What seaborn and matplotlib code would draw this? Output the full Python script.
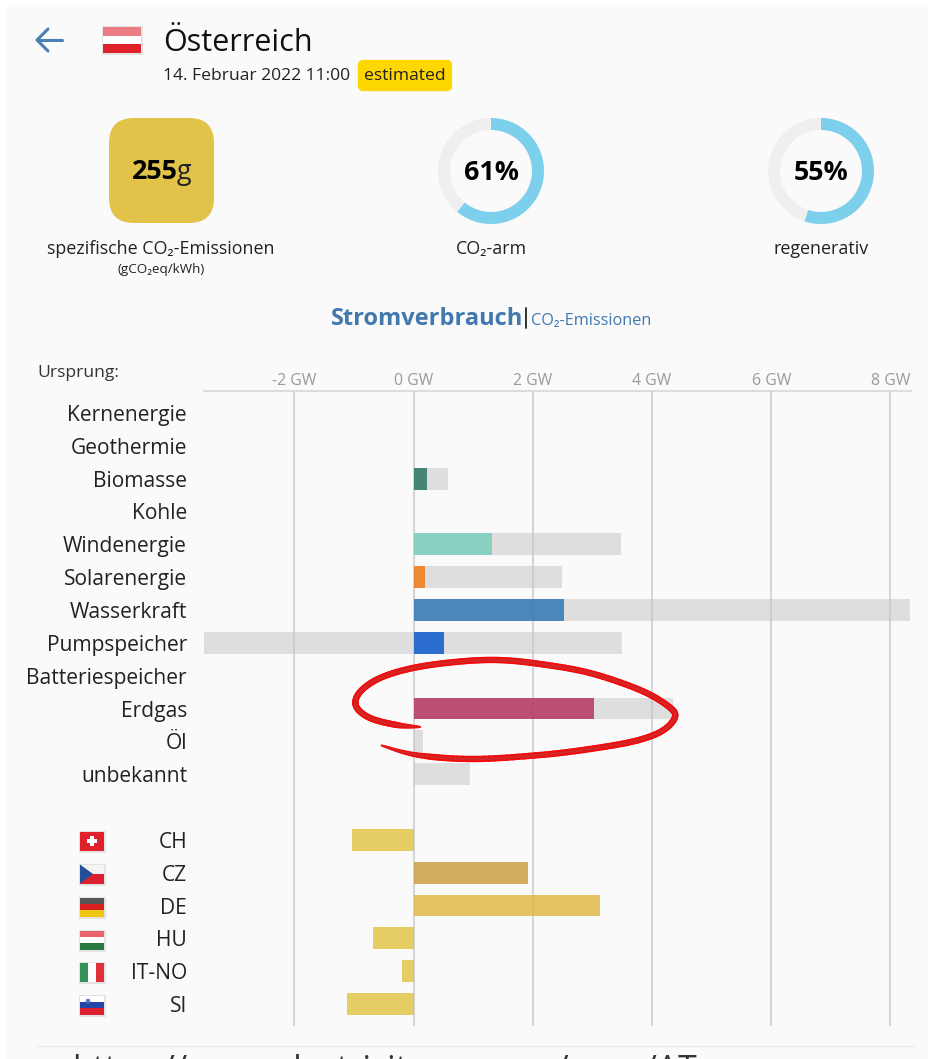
import numpy as np
import pandas as pd
import seaborn as sns
import matplotlib
matplotlib.use('Agg')
import matplotlib.pyplot as plt
from matplotlib.patches import Rectangle, FancyBboxPatch, Wedge, Polygon, Circle
from matplotlib.collections import LineCollection

# data
categories = ['Kernenergie', 'Geothermie', 'Biomasse', 'Kohle', 'Windenergie', 'Solarenergie',
              'Wasserkraft', 'Pumpspeicher', 'Batteriespeicher', 'Erdgas', 'Öl', 'unbekannt', ' ',
              'CH', 'CZ', 'DE', 'HU', 'IT-NO', 'SI']
capacity_pos = [0, 0, 0.58, 0, 3.48, 2.49, 8.33, 3.5, 0, 4.35, 0.16, 0.95, 0, 0, 0, 0, 0, 0, 0]
capacity_neg = [0, 0, 0, 0, 0, 0, 0, -3.52, 0, 0, 0, 0, 0, 0, 0, 0, 0, 0, 0]
production = [0, 0, 0.22, 0, 1.32, 0.2, 2.53, 0.51, 0, 3.03, 0, 0.01, 0, -1.03, 1.92, 3.13, -0.68, -0.2, -1.12]
colors = ['#ffffff', '#ffffff', '#1f6f5c', '#ffffff', '#74cdb9', '#f27406', '#2772b2', '#0052cc', '#ffffff',
          '#b32c58', '#888888', '#888888', '#ffffff',
          '#e2c33f', '#c99a3a', '#deb63f', '#e2c33f', '#e2c33f', '#e2c33f']
gw_ticks = [-2, 0, 2, 4, 6, 8]
co2_value = '255'
low_carbon = 61
renewable = 55

W, H = 930, 1059
sns.set_theme(style='white')
plt.rcParams['font.family'] = ['Open Sans', 'DejaVu Sans']

df = pd.DataFrame({'cat': categories, 'pos': capacity_pos, 'neg': capacity_neg, 'prod': production})
palette = dict(zip(categories, colors))

fig = plt.figure(figsize=(W / 100, H / 100), dpi=100, facecolor='white')

def px_axes(zorder):
    a = fig.add_axes([0, 0, 1, 1], zorder=zorder)
    a.set_xlim(0, W)
    a.set_ylim(H, 0)
    a.axis('off')
    a.patch.set_alpha(0)
    return a

bg = px_axes(0)
bg.add_patch(Rectangle((7, 5), 921, 1054, fc='#fafafa', ec='none'))

# chart, placed at pixel box 203.7..910.7 / 391..1026
ax = fig.add_axes([203.7 / W, 1 - 1026 / H, 707 / W, (1026 - 391) / H], zorder=1)
ax.patch.set_alpha(0)
bar_kw = dict(order=categories, width=0.66, orient='h', ax=ax, errorbar=None, saturation=1, linewidth=0)
sns.barplot(data=df, y='cat', x='pos', color='#c4c4c4', alpha=0.5, **bar_kw)
sns.barplot(data=df, y='cat', x='neg', color='#c4c4c4', alpha=0.5, **bar_kw)
sns.barplot(data=df, y='cat', x='prod', hue='cat', palette=palette, alpha=0.8, legend=False, **bar_kw)
ax.set_xlim(-3.52, 8.34)
ax.set_ylim(18.67, -0.67)
ax.set_xticks(gw_ticks)
ax.set_xticklabels([f'{t} GW' for t in gw_ticks], color='#9a9a9a', fontsize=11.4)
ax.set_xlabel('')
ax.set_ylabel('')
ax.xaxis.tick_top()
ax.tick_params(axis='x', length=0, pad=1.5)
ax.tick_params(axis='y', length=0, pad=12, labelsize=15.1, labelcolor='#222222')
ax.set_axisbelow(True)
ax.grid(axis='x', color='#d6d6d6', lw=1.5)
ax.grid(axis='y', visible=False)
for s in ['left', 'right', 'bottom']:
    ax.spines[s].set_visible(False)
ax.spines['top'].set_color('#d6d6d6')
ax.spines['top'].set_linewidth(1.2)

ov = px_axes(2)

# header
ov.plot([38, 62], [40, 40], color='#4a80b5', lw=2.2, solid_capstyle='round')
ov.plot([48, 37, 48], [29, 40, 51], color='#4a80b5', lw=2.2, solid_capstyle='round', solid_joinstyle='round')
ov.text(163, 43, 'Österreich', fontsize=22, va='center', color='#111111')
ov.text(163, 76, '14. Februar 2022 11:00', fontsize=12.6, va='center', color='#222222')
ov.add_patch(FancyBboxPatch((362, 64), 86, 23, boxstyle='round,pad=0,rounding_size=1', fc='#ffd700', ec='#ffd700', lw=6,
                            joinstyle='round'))
ov.text(405, 76.5, 'estimated', fontsize=12.6, va='center', ha='center', color='#222222')

def flag(x, y, w, h, stripes, vertical=False):
    ov.add_patch(Rectangle((x - 1.5, y - 1), w + 3, h + 3, fc='#c8c8c8', ec='none', alpha=0.45))
    n = len(stripes)
    for i, c in enumerate(stripes):
        if vertical:
            ov.add_patch(Rectangle((x + i * w / n, y), w / n, h, fc=c, ec='none'))
        else:
            ov.add_patch(Rectangle((x, y + i * h / n), w, h / n, fc=c, ec='none'))

flag(103, 27, 38, 26, ['#ec7c84', '#ffffff', '#e0232b'])

row_y = {'CH': 841, 'CZ': 874, 'DE': 907, 'HU': 940, 'IT-NO': 972, 'SI': 1005}
fy = row_y['CH'] - 9.5
flag(80, fy, 24, 19, ['#e0202b'])
ov.add_patch(Rectangle((90, fy + 4.5), 4, 10, fc='white', ec='none'))
ov.add_patch(Rectangle((87, fy + 7.5), 10, 4, fc='white', ec='none'))
fy = row_y['CZ'] - 9.5
flag(80, fy, 24, 19, ['#f4f4f4', '#dd2030'])
ov.add_patch(Polygon([(80, fy), (93, fy + 9.5), (80, fy + 19)], fc='#24509a', ec='none'))
flag(80, row_y['DE'] - 9.5, 24, 19, ['#555555', '#d9201f', '#f0c814'])
flag(80, row_y['HU'] - 9.5, 24, 19, ['#e8636b', '#ffffff', '#2c7a43'])
flag(80, row_y['IT-NO'] - 9.5, 24, 19, ['#35935a', '#ffffff', '#e0303a'], vertical=True)
fy = row_y['SI'] - 9.5
flag(80, fy, 24, 19, ['#ffffff', '#2446a8', '#dd2030'])
ov.add_patch(Circle((88, fy + 5.5), 2.3, fc='#5a78c0', ec='none'))

# kpis
ov.add_patch(FancyBboxPatch((134, 143), 55, 55, boxstyle='round,pad=25,rounding_size=25', fc='#e0c348', ec='none'))
ov.text(132, 172, co2_value, fontsize=19.4, fontweight='bold', va='center', color='black')
ov.text(177, 172, 'g', fontsize=19.4, va='center', color='#222222')
ov.text(161, 249, 'spezifische CO₂-Emissionen', fontsize=12.9, ha='center', va='center', color='#222222')
ov.text(161, 270, '(gCO₂eq/kWh)', fontsize=9.6, ha='center', va='center', color='#222222')

def donut(cx, pct, label):
    cy = 171
    ov.add_patch(Wedge((cx, cy), 53, 0, 360, width=12, fc='#efefef', ec='none'))
    # y axis is inverted, so angles run clockwise from +x
    ov.add_patch(Wedge((cx, cy), 53, -90, -90 + 3.6 * pct, width=12, fc='#7dd0ec', ec='none'))
    ov.text(cx, cy + 2, f'{pct}%', fontsize=19.4, fontweight='bold', ha='center', va='center', color='black')
    ov.text(cx, 249, label, fontsize=12.9, ha='center', va='center', color='#222222')

donut(491, low_carbon, 'CO₂-arm')
donut(821, renewable, 'regenerativ')

# section title
ov.text(331, 319, 'Stromverbrauch', fontsize=17, fontweight='bold', va='center', color='#4178ae')
ov.plot([525.5, 525.5], [308, 328], color='#222222', lw=1.3)
ov.text(531, 321, 'CO₂-Emissionen', fontsize=11.7, va='center', color='#4178ae')
ov.text(37, 373, 'Ursprung:', fontsize=12.6, va='center', color='#333333')

# hand drawn circle around Erdgas
pts = np.array([(420, 727), (397, 725), (370, 718), (356, 706), (360, 692), (380, 678), (413, 668),
                (455, 662), (497, 660), (540, 664), (590, 673), (640, 690), (668, 706), (675, 717),
                (662, 731), (635, 741), (590, 749), (540, 755), (473, 759), (417, 755), (380, 745)], float)

def smooth(p, n=12):
    p2 = np.vstack([p[0], p, p[-1]])
    out = []
    for i in range(1, len(p2) - 2):
        for u in np.linspace(0, 1, n, endpoint=False):
            out.append(0.5 * (2 * p2[i] + (p2[i + 1] - p2[i - 1]) * u
                              + (2 * p2[i - 1] - 5 * p2[i] + 4 * p2[i + 1] - p2[i + 2]) * u ** 2
                              + (3 * p2[i] - p2[i - 1] - 3 * p2[i + 1] + p2[i + 2]) * u ** 3))
    return np.array(out)

c = smooth(pts)
segs = np.stack([c[:-1], c[1:]], axis=1)
s = np.linspace(0, 1, len(segs))
taper = np.clip(np.minimum(s / 0.05, (1 - s) / 0.06), 0, 1)
taper = 0.35 + 0.65 * taper
ov.add_collection(LineCollection(segs, linewidths=4.6 * taper, colors='#f20c0c', capstyle='round'))
ov.add_collection(LineCollection(segs, linewidths=2.0 * taper, colors='#d42626', capstyle='round'))

# footer, cut off by the screenshot
ov.plot([37, 917], [1046, 1046], color='#eeeeee', lw=1)
ov.text(72, 1071, 'https://www.electricitymap.org/zone/AT', fontsize=24.3, va='center', color='#333333', clip_on=True)

plt.savefig('out.png', dpi=100)
